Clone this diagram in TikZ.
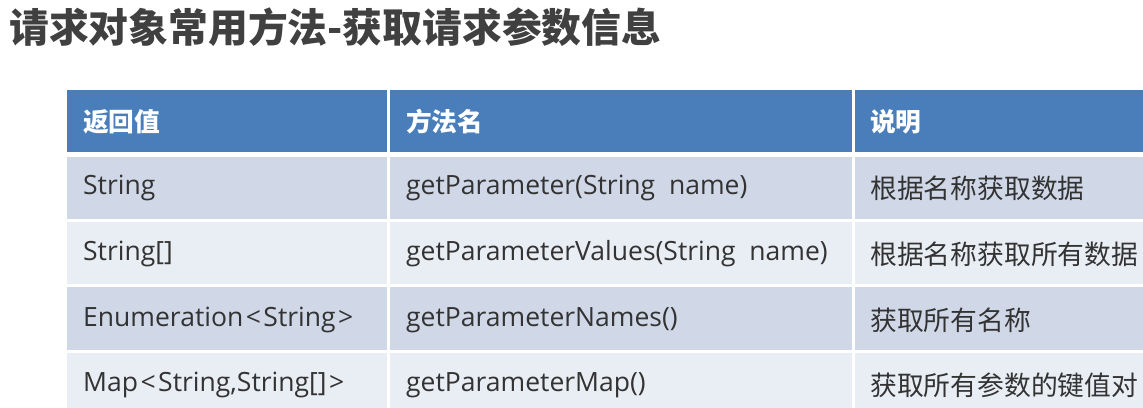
\documentclass[tikz,border=0pt]{standalone}
\usepackage{fontspec}
\setmainfont{Open Sans}
\newfontfamily\cjk{Noto Sans CJK SC}
\usetikzlibrary{positioning}
\definecolor{hdr}{HTML}{4A7EBB}
\definecolor{rowA}{HTML}{D0D8E8}
\definecolor{rowB}{HTML}{E9EDF4}
\definecolor{txt}{HTML}{333333}
\definecolor{ttl}{HTML}{404040}
\newcommand{\lt}{\kern2.5pt<\kern2.5pt}
\newcommand{\gtr}{\kern2.5pt>}
\begin{document}
\begin{tikzpicture}[x=1pt,y=-1pt,
  htext/.style={anchor=west,inner sep=0pt,text=white,font=\cjk\bfseries\fontsize{25.7}{28}\selectfont},
  btext/.style={anchor=west,inner sep=0pt,text=txt,font=\fontsize{26.5}{30}\selectfont},
  ctext/.style={anchor=west,inner sep=0pt,text=txt,font=\cjk\fontsize{26.8}{30}\selectfont}]
\useasboundingbox (0,0) rectangle (1143,407);
\fill[white] (0,0) rectangle (1143,407);
\clip (0,0) rectangle (1143,407);
\node[anchor=west,inner sep=0pt,text=ttl,font=\cjk\bfseries\fontsize{39.8}{44}\selectfont] (title) at (9,27) {请求对象常用方法-获取请求参数信息};
% header
\fill[hdr] (67,90) rectangle (387,152);
\fill[hdr] (390,90) rectangle (852,152);
\fill[hdr] (855,90) rectangle (1160,152);
% rows
\foreach \t/\b/\c in {157/219/rowA,222/284/rowB,287/350/rowA,353/420/rowB}{
  \fill[\c] (67,\t) rectangle (387,\b);
  \fill[\c] (390,\t) rectangle (852,\b);
  \fill[\c] (855,\t) rectangle (1160,\b);
}
\node[htext] (h1) at (83,122) {返回值};
\node[htext] (h2) at (406,122) {方法名};
\node[htext] (h3) at (870,122) {说明};
\node[btext] (a1) at (83,188) {String};
\node[btext] (b1) at (406,188) {getParameter(String\ \ name)};
\node[ctext] (c1) at (870,188) {根据名称获取数据};
\node[btext] (a2) at (83,254) {String[]};
\node[btext] (b2) at (406,254) {getParameterValues(String\ \ name)};
\node[ctext] (c2) at (870,254) {根据名称获取所有数据};
\node[btext] (a3) at (83,320) {Enumeration\lt String\gtr};
\node[btext] (b3) at (406,320) {getParameterNames()};
\node[ctext] (c3) at (870,320) {获取所有名称};
\node[btext] (a4) at (83,385) {Map\lt String,String[]\gtr};
\node[btext] (b4) at (406,385) {getParameterMap()};
\node[ctext] (c4) at (870,385) {获取所有参数的键值对};
\end{tikzpicture}
\end{document}
